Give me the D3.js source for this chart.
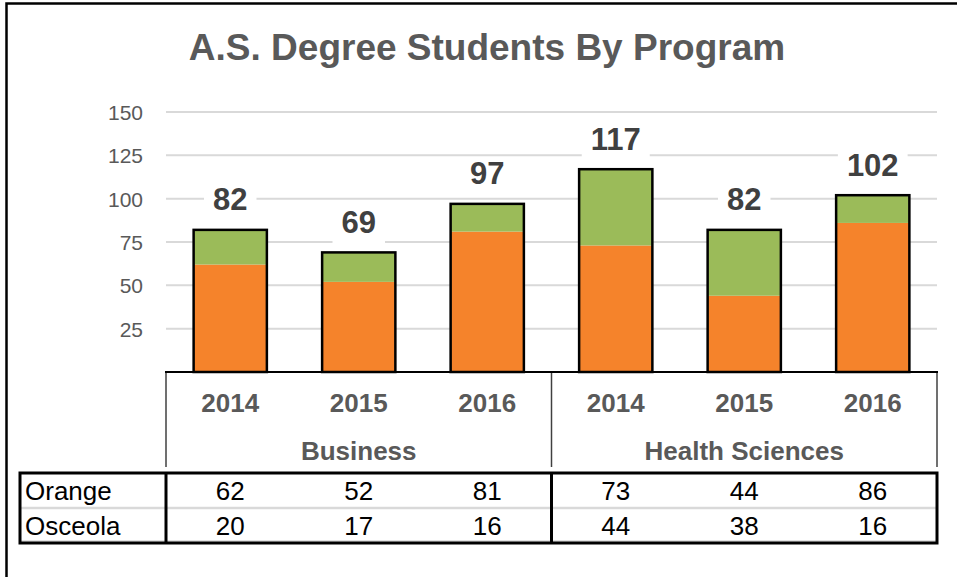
<!DOCTYPE html>
<html>
<head>
<meta charset="utf-8">
<script src="https://cdn.jsdelivr.net/npm/d3@7"></script>
<style>
  body { margin: 0; background: #fff; }
  text { font-family: "Liberation Sans", Arial, sans-serif; }
</style>
</head>
<body>
<div class="mainCont"></div>
<script>
var years = ["2014", "2015", "2016", "2014", "2015", "2016"];
var programs = ["Business", "Health Sciences"];
var orange = [62, 52, 81, 73, 44, 86];
var osceola = [20, 17, 16, 44, 38, 16];
var seriesNames = ["Orange", "Osceola"];
var yTicks = [25, 50, 75, 100, 125, 150];

var width = 957,
    height = 577;
var plot = { left: 166, right: 937, top: 112, bottom: 372 };
var color = d3.scaleOrdinal()
    .domain(seriesNames)
    .range(["#f5832b", "#9bbb59"]);

var svg = d3.select(".mainCont").append("svg")
    .attr("width", width)
    .attr("height", height);

// outer frame (left + top only visible)
svg.append("path")
    .attr("d", "M6.5,577 V3.5 H957")
    .attr("fill", "none")
    .attr("stroke", "#000")
    .attr("stroke-width", 2.5);

svg.append("text")
    .attr("x", 487)
    .attr("y", 60)
    .attr("text-anchor", "middle")
    .style("font-size", "37px")
    .style("font-weight", "bold")
    .style("fill", "#595959")
    .text("A.S. Degree Students By Program");

// one key per bar, so the repeated years stay separate
var keys = years.map(function(d, i) { return i; });

var x = d3.scaleBand()
    .domain(keys)
    .range([plot.left, plot.right])
    .paddingInner(0.43)
    .paddingOuter(0.215);

var y = d3.scaleLinear()
    .domain([0, 150])
    .range([plot.bottom, plot.top]);

// gridlines
svg.append("g")
    .selectAll("line")
    .data(yTicks)
    .enter().append("line")
    .attr("x1", plot.left)
    .attr("x2", plot.right)
    .attr("y1", function(d) { return y(d); })
    .attr("y2", function(d) { return y(d); })
    .attr("stroke", "#d9d9d9")
    .attr("stroke-width", 2);

// y axis labels
var yAxis = d3.axisLeft(y).tickValues(yTicks).tickSize(0).tickPadding(0);
var ya = svg.append("g")
    .attr("transform", "translate(143,0)")
    .call(yAxis);
ya.select(".domain").remove();
ya.selectAll("text")
    .attr("dy", "0.36em")
    .style("font-family", "'Liberation Sans', Arial, sans-serif")
    .style("font-size", "21px")
    .style("fill", "#595959");

// stacked data
var rows = keys.map(function(i) {
    return { key: i, Orange: orange[i], Osceola: osceola[i] };
});
var stack = d3.stack().keys(seriesNames);
var stacked = stack(rows);

svg.append("g")
    .selectAll("g")
    .data(stacked)
    .enter().append("g")
    .attr("fill", function(d) { return color(d.key); })
    .selectAll("rect")
    .data(function(d) { return d; })
    .enter().append("rect")
    .attr("x", function(d) { return x(d.data.key); })
    .attr("width", x.bandwidth())
    .attr("y", function(d) { return y(d[1]); })
    .attr("height", function(d) { return y(d[0]) - y(d[1]); });

// bar outlines
var totals = rows.map(function(r) { return r.Orange + r.Osceola; });
svg.append("g")
    .selectAll("rect")
    .data(totals)
    .enter().append("rect")
    .attr("x", function(d, i) { return x(i); })
    .attr("width", x.bandwidth())
    .attr("y", function(d) { return y(d); })
    .attr("height", function(d) { return y(0) - y(d); })
    .attr("fill", "none")
    .attr("stroke", "#000")
    .attr("stroke-width", 2.5);

// total labels with white backing
var labels = svg.append("g")
    .selectAll("g")
    .data(totals)
    .enter().append("g");

labels.append("rect").attr("fill", "#fff");
labels.append("text")
    .attr("x", function(d, i) { return x(i) + x.bandwidth() / 2; })
    .attr("y", function(d) { return y(d) - 19.5; })
    .attr("text-anchor", "middle")
    .style("font-size", "31px")
    .style("font-weight", "bold")
    .style("fill", "#404040")
    .text(function(d) { return d; });

labels.each(function() {
    var g = d3.select(this);
    var b = g.select("text").node().getBBox();
    g.select("rect")
        .attr("x", b.x - 9)
        .attr("y", b.y + 2)
        .attr("width", b.width + 18)
        .attr("height", b.height + 2);
});

// category axis
var groupEdges = [plot.left, (plot.left + plot.right) / 2, plot.right];
svg.append("g")
    .selectAll("line")
    .data(groupEdges)
    .enter().append("line")
    .attr("x1", function(d) { return d; })
    .attr("x2", function(d) { return d; })
    .attr("y1", plot.bottom)
    .attr("y2", 467)
    .attr("stroke", "#404040")
    .attr("stroke-width", 1.5);

svg.append("line")
    .attr("x1", plot.left - 1)
    .attr("x2", plot.right + 1)
    .attr("y1", plot.bottom)
    .attr("y2", plot.bottom)
    .attr("stroke", "#000")
    .attr("stroke-width", 2);

svg.append("g")
    .selectAll("text")
    .data(years)
    .enter().append("text")
    .attr("x", function(d, i) { return x(i) + x.bandwidth() / 2; })
    .attr("y", 412)
    .attr("text-anchor", "middle")
    .style("font-size", "26px")
    .style("font-weight", "bold")
    .style("fill", "#595959")
    .text(function(d) { return d; });

svg.append("g")
    .selectAll("text")
    .data(programs)
    .enter().append("text")
    .attr("x", function(d, i) { return (groupEdges[i] + groupEdges[i + 1]) / 2; })
    .attr("y", 460)
    .attr("text-anchor", "middle")
    .style("font-size", "26px")
    .style("font-weight", "bold")
    .style("fill", "#595959")
    .text(function(d) { return d; });

// data table
var table = { left: 20, top: 473, rowH: 35 };
var tableData = [orange, osceola];

svg.append("line")
    .attr("x1", table.left)
    .attr("x2", plot.right)
    .attr("y1", table.top + table.rowH)
    .attr("y2", table.top + table.rowH)
    .attr("stroke", "#d9d9d9")
    .attr("stroke-width", 2.5);
svg.append("line")
    .attr("x1", table.left)
    .attr("x2", plot.right)
    .attr("y1", table.top + 2 * table.rowH - 2)
    .attr("y2", table.top + 2 * table.rowH - 2)
    .attr("stroke", "#d9d9d9")
    .attr("stroke-width", 1.5);

var trow = svg.append("g")
    .selectAll("g")
    .data(tableData)
    .enter().append("g")
    .attr("transform", function(d, r) {
        return "translate(0," + (table.top + r * table.rowH) + ")";
    });

trow.append("text")
    .attr("x", table.left + 5)
    .attr("y", 27)
    .style("font-size", "26px")
    .style("fill", "#000")
    .text(function(d, r) { return seriesNames[r]; });

trow.selectAll(".val")
    .data(function(d) { return d; })
    .enter().append("text")
    .attr("class", "val")
    .attr("x", function(d, i) { return x(i) + x.bandwidth() / 2; })
    .attr("y", 27)
    .attr("text-anchor", "middle")
    .style("font-size", "26px")
    .style("fill", "#000")
    .text(function(d) { return d; });

svg.append("rect")
    .attr("x", table.left)
    .attr("y", table.top)
    .attr("width", plot.right - table.left)
    .attr("height", 2 * table.rowH)
    .attr("fill", "none")
    .attr("stroke", "#000")
    .attr("stroke-width", 3);

svg.append("g")
    .selectAll("line")
    .data(groupEdges.slice(0, 2))
    .enter().append("line")
    .attr("x1", function(d) { return d; })
    .attr("x2", function(d) { return d; })
    .attr("y1", table.top)
    .attr("y2", table.top + 2 * table.rowH)
    .attr("stroke", "#000")
    .attr("stroke-width", 3);
</script>
</body>
</html>
